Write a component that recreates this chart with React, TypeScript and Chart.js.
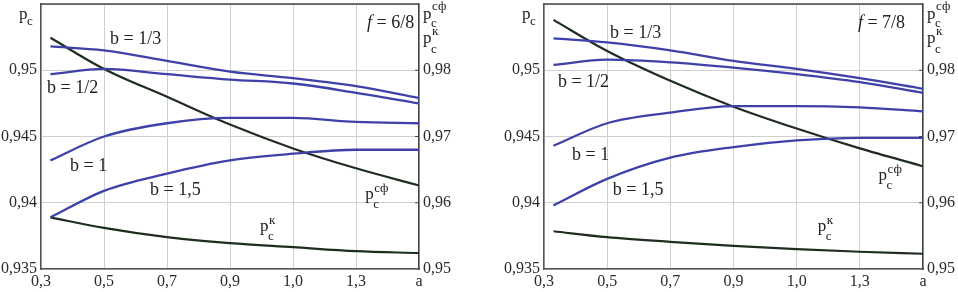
import React, { useEffect, useRef } from 'react';
import { Chart, registerables } from 'chart.js';
Chart.register(...registerables);

const SERIF = '"Liberation Serif", "Times New Roman", serif';

// a values where curves are sampled
const aValues = [0.33, 0.5, 0.7, 0.9, 1.1, 1.3, 1.5];

// axis ticks
const xTickValues = [0.3, 0.5, 0.7, 0.9, 1.1, 1.3, 1.5];
const xTickLabels = ['0,3', '0,5', '0,7', '0,9', '1,0', '1,3', 'a'];
const leftTickValues = [0.935, 0.94, 0.945, 0.95, 0.955];
const leftTickLabels = ['0,935', '0,94', '0,945', '0,95', ''];
const rightTickValues = [0.95, 0.96, 0.97, 0.98, 0.99];
const rightTickLabels = ['0,95', '0,96', '0,97', '0,98', ''];

// f = 6/8 (left axis: p_c for b curves; right axis: p_c^сф, p_c^к)
const f68_b13 = [0.9518, 0.9515, 0.9507, 0.9499, 0.9494, 0.9488, 0.9479];
const f68_b12 = [0.9497, 0.9501, 0.9497, 0.9493, 0.949, 0.9483, 0.9475];
const f68_b1 = [0.9432, 0.945, 0.946, 0.9464, 0.9464, 0.9461, 0.946];
const f68_b15 = [0.9389, 0.9409, 0.9422, 0.9432, 0.9437, 0.944, 0.944];
const f68_psf = [0.9849, 0.9802, 0.976, 0.9718, 0.9682, 0.9652, 0.9626];
const f68_pk = [0.9578, 0.9562, 0.9548, 0.9539, 0.9533, 0.9527, 0.9524];

// f = 7/8
const f78_b13 = [0.9524, 0.9521, 0.9515, 0.9507, 0.9501, 0.9494, 0.9486];
const f78_b12 = [0.9504, 0.9508, 0.9506, 0.9502, 0.9497, 0.9491, 0.9483];
const f78_b1 = [0.9443, 0.946, 0.9468, 0.9473, 0.9473, 0.9472, 0.9469];
const f78_b15 = [0.9398, 0.9418, 0.9434, 0.9442, 0.9447, 0.9449, 0.9449];
const f78_psf = [0.9876, 0.9829, 0.9784, 0.9745, 0.9712, 0.9682, 0.9655];
const f78_pk = [0.9557, 0.9548, 0.9541, 0.9535, 0.953, 0.9526, 0.9523];

const BLUE = '#3d41a8';
const DARK = '#1f2d1f';

type Lbl = { text: string; x: number; y: number };
type PLbl = { sup: string; x: number; y: number };

const panels = [
  {
    f: '6/8',
    blue: [f68_b13, f68_b12, f68_b1, f68_b15],
    dark: [f68_psf, f68_pk],
    labels: [
      { text: 'b = 1/3', x: 0.519, y: 0.952 },
      { text: 'b = 1/2', x: 0.319, y: 0.9483 },
      { text: 'b = 1', x: 0.392, y: 0.9424 },
      { text: 'b = 1,5', x: 0.646, y: 0.9406 },
    ] as Lbl[],
    fPos: { x: 1.335, y: 0.9532 },
    pLabels: [
      { sup: 'сф', x: 1.329, y: 0.9403 },
      { sup: 'к', x: 0.995, y: 0.9379 },
    ] as PLbl[],
    left: 0,
    width: 479,
    yW: 41,
    y2W: 60,
  },
  {
    f: '7/8',
    blue: [f78_b13, f78_b12, f78_b1, f78_b15],
    dark: [f78_psf, f78_pk],
    labels: [
      { text: 'b = 1/3', x: 0.509, y: 0.9524 },
      { text: 'b = 1/2', x: 0.344, y: 0.9487 },
      { text: 'b = 1', x: 0.389, y: 0.9432 },
      { text: 'b = 1,5', x: 0.518, y: 0.9406 },
    ] as Lbl[],
    fPos: { x: 1.294, y: 0.9532 },
    pLabels: [
      { sup: 'сф', x: 1.359, y: 0.9417 },
      { sup: 'к', x: 1.167, y: 0.9379 },
    ] as PLbl[],
    left: 479,
    width: 479,
    yW: 65,
    y2W: 35,
  },
];

function drawP(
  ctx: CanvasRenderingContext2D,
  x: number,
  base: number,
  sup: string,
  supDy = -7,
  subDy = 9
) {
  ctx.textAlign = 'left';
  ctx.textBaseline = 'alphabetic';
  ctx.font = `17px ${SERIF}`;
  ctx.fillText('p', x, base);
  const w = ctx.measureText('p').width;
  ctx.font = `13px ${SERIF}`;
  ctx.fillText('c', x + w - 0.5, base + subDy);
  if (sup) {
    ctx.font = `13px ${SERIF}`;
    ctx.fillText(sup, x + w + 0.5, base + supDy);
  }
}

function Panel({ p }: { p: (typeof panels)[number] }) {
  const ref = useRef<HTMLCanvasElement>(null);
  useEffect(() => {
    const toPts = (arr: number[]) => arr.map((v, i) => ({ x: aValues[i], y: v }));
    const datasets: any[] = [];
    p.blue.forEach((arr) =>
      datasets.push({
        data: toPts(arr),
        borderColor: BLUE,
        borderWidth: 2.3,
        pointRadius: 0,
        cubicInterpolationMode: 'monotone',
        yAxisID: 'y',
      })
    );
    p.dark.forEach((arr) =>
      datasets.push({
        data: toPts(arr),
        borderColor: DARK,
        borderWidth: 2.2,
        pointRadius: 0,
        cubicInterpolationMode: 'monotone',
        yAxisID: 'y2',
      })
    );
    const plugin = {
      id: 'annot' + p.f.replace('/', ''),
      afterDraw(chart: any) {
        const ctx = chart.ctx as CanvasRenderingContext2D;
        const ca = chart.chartArea;
        const xs = chart.scales.x;
        const ys = chart.scales.y;
        ctx.save();
        // top border
        ctx.strokeStyle = '#444';
        ctx.lineWidth = 1.5;
        ctx.beginPath();
        ctx.moveTo(ca.left, ca.top);
        ctx.lineTo(ca.right, ca.top);
        ctx.stroke();
        // right axis inner ticks
        ctx.lineWidth = 1;
        rightTickValues.slice(1, 4).forEach((v) => {
          const yy = chart.scales.y2.getPixelForValue(v);
          ctx.beginPath();
          ctx.moveTo(ca.right - 4, yy);
          ctx.lineTo(ca.right, yy);
          ctx.stroke();
        });
        ctx.fillStyle = '#222';
        ctx.textAlign = 'left';
        ctx.textBaseline = 'alphabetic';
        p.labels.forEach((l) => {
          ctx.font = `18px ${SERIF}`;
          ctx.fillText(l.text, xs.getPixelForValue(l.x), ys.getPixelForValue(l.y));
        });
        // f = ...
        const fx = xs.getPixelForValue(p.fPos.x);
        const fy = ys.getPixelForValue(p.fPos.y);
        ctx.font = `italic 18px ${SERIF}`;
        ctx.fillText('f', fx, fy);
        const fw = ctx.measureText('f').width;
        ctx.font = `18px ${SERIF}`;
        ctx.fillText(' = ' + p.f, fx + fw, fy);
        // p labels in plot
        p.pLabels.forEach((l) =>
          drawP(ctx, xs.getPixelForValue(l.x), ys.getPixelForValue(l.y), l.sup)
        );
        // axis headers
        drawP(ctx, ca.left - 22, ca.top + 15, '', -7, 6);
        drawP(ctx, ca.right + 4, ca.top + 15, 'сф', -9, 8);
        drawP(ctx, ca.right + 4, ca.top + 39, 'к', -8, 10);
        ctx.restore();
      },
    };
    const tickFont = { family: SERIF, size: 16 };
    const noPad = (s: any) => {
      s.paddingTop = 0;
      s.paddingBottom = 0;
    };
    const chart = new Chart(ref.current as HTMLCanvasElement, {
      type: 'line',
      data: { datasets },
      plugins: [plugin],
      options: {
        animation: false,
        responsive: false,
        devicePixelRatio: 1,
        layout: { padding: { top: 4, left: 0, right: 0, bottom: 0 } },
        plugins: { legend: { display: false }, tooltip: { enabled: false } },
        scales: {
          x: {
            type: 'linear',
            min: 0.3,
            max: 1.5,
            afterBuildTicks: (s: any) => {
              s.ticks = xTickValues.map((v) => ({ value: v }));
            },
            afterFit: (s: any) => {
              s.height = 23;
              s.paddingLeft = 0;
              s.paddingRight = 0;
            },
            ticks: {
              autoSkip: false,
              maxRotation: 0,
              padding: 3,
              color: '#2a2a2a',
              font: tickFont,
              callback: (_v: any, i: number) => xTickLabels[i],
            },
            grid: { color: '#cfcfcf', lineWidth: 1, drawTicks: false },
            border: { color: '#555', width: 1.5 },
          },
          y: {
            type: 'linear',
            position: 'left',
            min: 0.935,
            max: 0.955,
            afterBuildTicks: (s: any) => {
              s.ticks = leftTickValues.map((v) => ({ value: v }));
            },
            afterFit: (s: any) => {
              s.width = p.yW;
              noPad(s);
            },
            ticks: {
              padding: 4,
              color: '#2a2a2a',
              font: tickFont,
              callback: (_v: any, i: number) => leftTickLabels[i],
            },
            grid: { color: '#cfcfcf', lineWidth: 1, drawTicks: false },
            border: { color: '#555', width: 1.5 },
          },
          y2: {
            type: 'linear',
            position: 'right',
            min: 0.95,
            max: 0.99,
            afterBuildTicks: (s: any) => {
              s.ticks = rightTickValues.map((v) => ({ value: v }));
            },
            afterFit: (s: any) => {
              s.width = p.y2W;
              noPad(s);
            },
            ticks: {
              padding: 4,
              color: '#2a2a2a',
              font: tickFont,
              callback: (_v: any, i: number) => rightTickLabels[i],
            },
            grid: { display: false, drawTicks: false },
            border: { color: '#444', width: 1.5 },
          },
        },
      } as any,
    });
    return () => chart.destroy();
  }, []);
  return (
    <canvas
      ref={ref}
      width={p.width}
      height={292}
      style={{ position: 'absolute', left: p.left, top: 0, width: p.width, height: 292 }}
    />
  );
}

export default function App() {
  return (
    <div style={{ position: 'fixed', left: 0, top: 0, width: 958, height: 292, background: '#fff' }}>
      {panels.map((p) => (
        <Panel key={p.f} p={p} />
      ))}
    </div>
  );
}
